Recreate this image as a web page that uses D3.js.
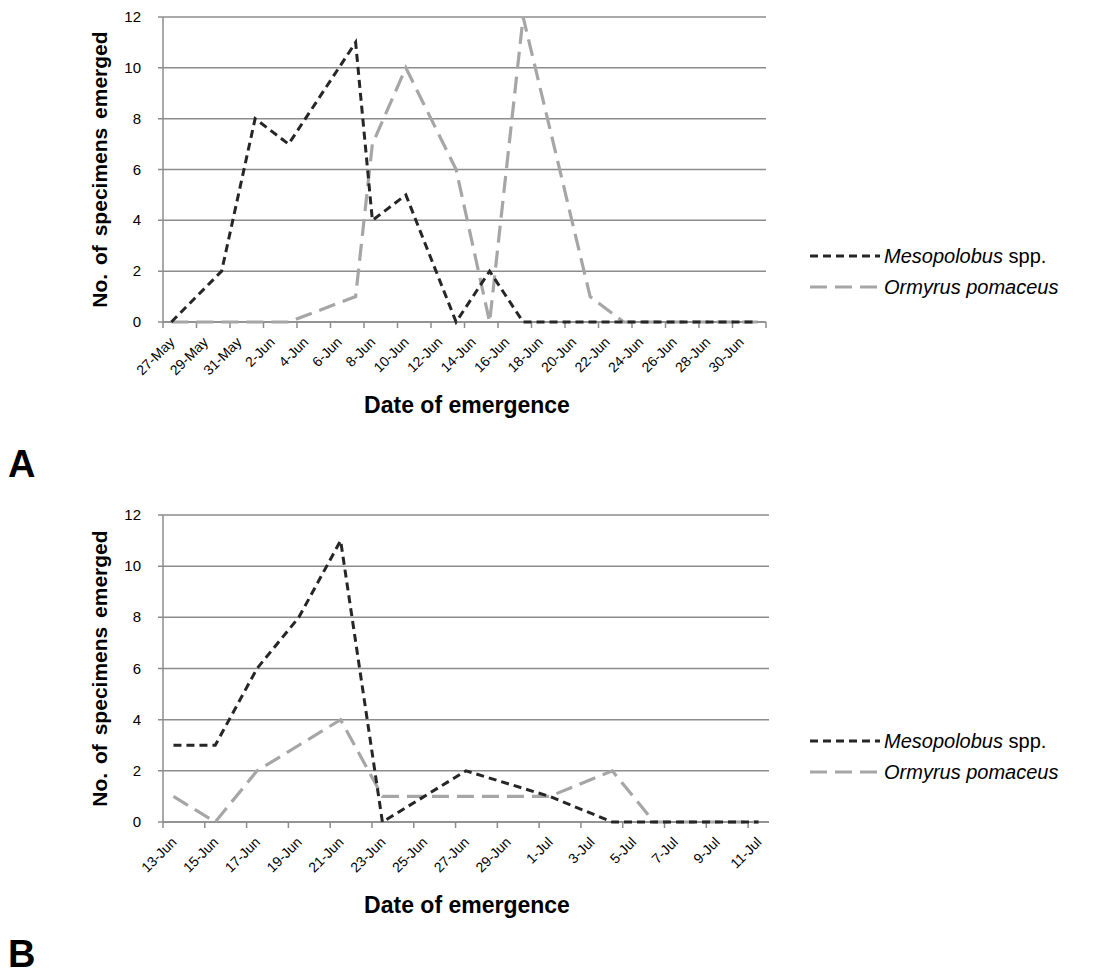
<!DOCTYPE html>
<html>
<head>
<meta charset="utf-8">
<script src="https://cdn.jsdelivr.net/npm/d3@7"></script>
<style>
  body { margin: 0; background: #fff; }
  svg { font-family: "Liberation Sans", Arial, sans-serif; }
</style>
</head>
<body>
<svg width="1099" height="976"></svg>
<script>
// panel A data
var datesA = ["2013-05-27", "2013-05-30", "2013-06-01", "2013-06-03", "2013-06-07", "2013-06-08",
  "2013-06-10", "2013-06-13", "2013-06-15", "2013-06-17", "2013-06-21", "2013-06-23",
  "2013-06-25", "2013-06-27", "2013-06-29", "2013-07-01"];
var mesoA = [0, 2, 8, 7, 11, 4, 5, 0, 2, 0, 0, 0, 0, 0, 0, 0];
var ormyA = [0, 0, 0, 0, 1, 7, 10, 6, 0, 12, 1, 0, 0, 0, 0, 0];

// panel B data
var datesB = ["2013-06-13", "2013-06-15", "2013-06-17", "2013-06-19", "2013-06-21", "2013-06-23",
  "2013-06-27", "2013-07-01", "2013-07-04", "2013-07-06", "2013-07-08", "2013-07-11"];
var mesoB = [3, 3, 6, 8, 11, 0, 2, 1, 0, 0, 0, 0];
var ormyB = [1, 0, 2, 3, 4, 1, 1, 1, 2, 0, 0, 0];

var yTicks = [0, 2, 4, 6, 8, 10, 12];

var parse = d3.utcParse("%Y-%m-%d");
var fmt = d3.utcFormat("%-d-%b");
var DAY = 864e5;

var svg = d3.select("svg");

function drawPanel(cfg) {
  var g = svg.append("g");
  var start = parse(cfg.dates[0]);
  var end = parse(cfg.axisEnd);

  var x = d3.scaleUtc().domain([start, end]).range([cfg.left, cfg.right]);
  var y = d3.scaleLinear().domain([0, 12]).range([cfg.bottom, cfg.top]);

  // gridlines
  g.selectAll(".grid")
    .data(yTicks)
    .join("line")
    .attr("x1", cfg.left - 5)
    .attr("x2", cfg.right)
    .attr("y1", (d) => y(d))
    .attr("y2", (d) => y(d))
    .style("stroke", "#8c8c8c")
    .style("stroke-width", 1.5);

  // y axis line
  g.append("line")
    .attr("x1", cfg.left).attr("x2", cfg.left)
    .attr("y1", cfg.top).attr("y2", cfg.bottom)
    .style("stroke", "#8c8c8c")
    .style("stroke-width", 1.5);

  g.selectAll(".ylab")
    .data(yTicks)
    .join("text")
    .attr("x", cfg.left - 22)
    .attr("y", (d) => y(d) + 5)
    .attr("text-anchor", "end")
    .style("font-size", "15px")
    .text((d) => d);

  // x axis ticks every 2 days
  var tickDates = d3.utcDay.range(start, new Date(+end + 1), 1).filter((d, i) => i % 2 == 0);
  g.selectAll(".xtick")
    .data(tickDates)
    .join("line")
    .attr("x1", (d) => x(d)).attr("x2", (d) => x(d))
    .attr("y1", cfg.bottom).attr("y2", cfg.bottom + 6)
    .style("stroke", "#8c8c8c")
    .style("stroke-width", 1.5);

  g.selectAll(".xlab")
    .data(tickDates.filter((d) => +d < +end))
    .join("text")
    .attr("transform", (d) => "translate(" + (x(+d + DAY / 2) + 4) + "," + (cfg.bottom + 21) + ") rotate(-45)")
    .attr("text-anchor", "end")
    .style("font-size", "14px")
    .text((d) => fmt(d));

  // x axis line
  g.append("line")
    .attr("x1", cfg.left).attr("x2", cfg.right)
    .attr("y1", cfg.bottom).attr("y2", cfg.bottom)
    .style("stroke", "#8c8c8c")
    .style("stroke-width", 1.5);

  var line = d3.line()
    .x((d) => x(+parse(d.date) + DAY / 2))
    .y((d) => y(d.v));

  var series = [
    { vals: cfg.ormy, color: "#a6a6a6", dash: "17,8", w: 3.2 },
    { vals: cfg.meso, color: "#262626", dash: "8,5", w: 3 }
  ];
  series.forEach(function(s) {
    g.append("path")
      .datum(cfg.dates.map((d, i) => ({ date: d, v: s.vals[i] })))
      .attr("d", line)
      .style("fill", "none")
      .style("stroke", s.color)
      .style("stroke-width", s.w)
      .style("stroke-dasharray", s.dash);
  });

  // axis titles
  g.append("text")
    .attr("x", 467)
    .attr("y", cfg.bottom + 91)
    .attr("text-anchor", "middle")
    .style("font-size", "23px")
    .style("font-weight", "bold")
    .text("Date of emergence");

  g.append("text")
    .attr("transform", "translate(" + 107 + "," + (cfg.top + cfg.bottom) / 2 + ") rotate(-90)")
    .attr("text-anchor", "middle")
    .style("font-size", "21px")
    .style("font-weight", "bold")
    .style("word-spacing", "3px")
    .text("No. of specimens emerged");

  // legend
  var leg = [
    { y: cfg.legY, color: "#262626", dash: "8,5", w: 3, name: "Mesopolobus", extra: " spp." },
    { y: cfg.legY + 31, color: "#a6a6a6", dash: "17,8", w: 3.2, name: "Ormyrus pomaceus", extra: "" }
  ];
  leg.forEach(function(l) {
    g.append("line")
      .attr("x1", 810).attr("x2", 880)
      .attr("y1", l.y).attr("y2", l.y)
      .style("stroke", l.color)
      .style("stroke-width", l.w)
      .style("stroke-dasharray", l.dash);
    var t = g.append("text")
      .attr("x", 884)
      .attr("y", l.y + 7)
      .style("font-size", "20px");
    t.append("tspan").style("font-style", "italic").text(l.name);
    t.append("tspan").text(l.extra);
  });

  g.append("text")
    .attr("x", 8)
    .attr("y", cfg.letterY)
    .style("font-size", "38px")
    .style("font-weight", "bold")
    .text(cfg.letter);
}

drawPanel({
  dates: datesA, meso: mesoA, ormy: ormyA, axisEnd: "2013-07-02",
  left: 163, right: 766, top: 17, bottom: 322, legY: 256, letterY: 477, letter: "A"
});

drawPanel({
  dates: datesB, meso: mesoB, ormy: ormyB, axisEnd: "2013-07-12",
  left: 163, right: 769, top: 515, bottom: 822, legY: 741, letterY: 967, letter: "B"
});
</script>
</body>
</html>
